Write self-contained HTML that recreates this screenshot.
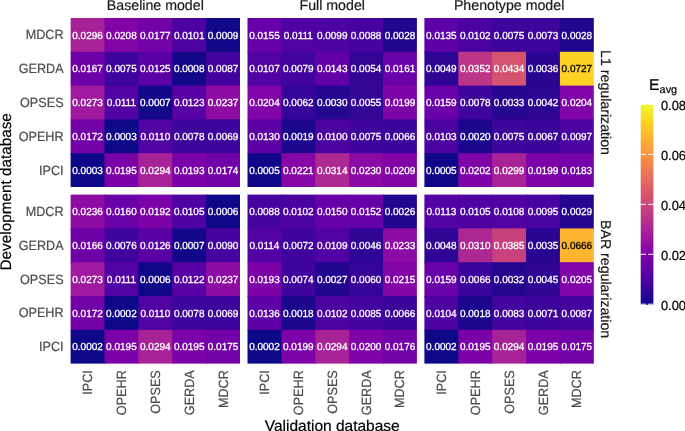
<!DOCTYPE html><html><head><meta charset="utf-8"><style>
html,body{margin:0;padding:0;background:#fff;}body{width:685px;height:431px;overflow:hidden;}
svg{display:block;font-family:"Liberation Sans",sans-serif;text-rendering:geometricPrecision;will-change:transform;}
</style></head><body>
<svg width="685" height="431" viewBox="0 0 685 431">
<rect x="0" y="0" width="685" height="431" fill="#fff"/>
<rect x="70.60" y="18.00" width="34.88" height="34.80" fill="#a72197"/>
<rect x="104.48" y="18.00" width="34.88" height="34.80" fill="#8104a7"/>
<rect x="138.36" y="18.00" width="34.88" height="34.80" fill="#7201a8"/>
<rect x="172.24" y="18.00" width="34.88" height="34.80" fill="#4c02a1"/>
<rect x="206.12" y="18.00" width="33.88" height="34.80" fill="#130789"/>
<rect x="70.60" y="51.80" width="34.88" height="34.80" fill="#6e00a8"/>
<rect x="104.48" y="51.80" width="34.88" height="34.80" fill="#3f049c"/>
<rect x="138.36" y="51.80" width="34.88" height="34.80" fill="#5901a5"/>
<rect x="172.24" y="51.80" width="34.88" height="34.80" fill="#130789"/>
<rect x="206.12" y="51.80" width="33.88" height="34.80" fill="#44039e"/>
<rect x="70.60" y="85.60" width="34.88" height="34.80" fill="#9e199d"/>
<rect x="104.48" y="85.60" width="34.88" height="34.80" fill="#5102a3"/>
<rect x="138.36" y="85.60" width="34.88" height="34.80" fill="#130789"/>
<rect x="172.24" y="85.60" width="34.88" height="34.80" fill="#5801a4"/>
<rect x="206.12" y="85.60" width="33.88" height="34.80" fill="#8e0ca4"/>
<rect x="70.60" y="119.40" width="34.88" height="34.80" fill="#7100a8"/>
<rect x="104.48" y="119.40" width="34.88" height="34.80" fill="#0d0887"/>
<rect x="138.36" y="119.40" width="34.88" height="34.80" fill="#5102a3"/>
<rect x="172.24" y="119.40" width="34.88" height="34.80" fill="#3f049c"/>
<rect x="206.12" y="119.40" width="33.88" height="34.80" fill="#3c049b"/>
<rect x="70.60" y="153.20" width="34.88" height="33.80" fill="#0d0887"/>
<rect x="104.48" y="153.20" width="34.88" height="33.80" fill="#7b02a8"/>
<rect x="138.36" y="153.20" width="34.88" height="33.80" fill="#a72197"/>
<rect x="172.24" y="153.20" width="34.88" height="33.80" fill="#7a02a8"/>
<rect x="206.12" y="153.20" width="33.88" height="33.80" fill="#7100a8"/>
<rect x="247.50" y="18.00" width="34.88" height="34.80" fill="#6700a8"/>
<rect x="281.38" y="18.00" width="34.88" height="34.80" fill="#5102a3"/>
<rect x="315.26" y="18.00" width="34.88" height="34.80" fill="#4b03a1"/>
<rect x="349.14" y="18.00" width="34.88" height="34.80" fill="#46039f"/>
<rect x="383.02" y="18.00" width="33.88" height="34.80" fill="#220690"/>
<rect x="247.50" y="51.80" width="34.88" height="34.80" fill="#5002a2"/>
<rect x="281.38" y="51.80" width="34.88" height="34.80" fill="#41049d"/>
<rect x="315.26" y="51.80" width="34.88" height="34.80" fill="#6100a7"/>
<rect x="349.14" y="51.80" width="34.88" height="34.80" fill="#330597"/>
<rect x="383.02" y="51.80" width="33.88" height="34.80" fill="#6a00a8"/>
<rect x="247.50" y="85.60" width="34.88" height="34.80" fill="#8004a8"/>
<rect x="281.38" y="85.60" width="34.88" height="34.80" fill="#370499"/>
<rect x="315.26" y="85.60" width="34.88" height="34.80" fill="#240691"/>
<rect x="349.14" y="85.60" width="34.88" height="34.80" fill="#330597"/>
<rect x="383.02" y="85.60" width="33.88" height="34.80" fill="#7d03a8"/>
<rect x="247.50" y="119.40" width="34.88" height="34.80" fill="#5b01a5"/>
<rect x="281.38" y="119.40" width="34.88" height="34.80" fill="#1d068e"/>
<rect x="315.26" y="119.40" width="34.88" height="34.80" fill="#4c02a1"/>
<rect x="349.14" y="119.40" width="34.88" height="34.80" fill="#3f049c"/>
<rect x="383.02" y="119.40" width="33.88" height="34.80" fill="#3a049a"/>
<rect x="247.50" y="153.20" width="34.88" height="33.80" fill="#100788"/>
<rect x="281.38" y="153.20" width="34.88" height="33.80" fill="#8707a6"/>
<rect x="315.26" y="153.20" width="34.88" height="33.80" fill="#ae2892"/>
<rect x="349.14" y="153.20" width="34.88" height="33.80" fill="#8b0aa5"/>
<rect x="383.02" y="153.20" width="33.88" height="33.80" fill="#8104a7"/>
<rect x="424.40" y="18.00" width="34.88" height="34.80" fill="#5e01a6"/>
<rect x="458.28" y="18.00" width="34.88" height="34.80" fill="#4c02a1"/>
<rect x="492.16" y="18.00" width="34.88" height="34.80" fill="#3f049c"/>
<rect x="526.04" y="18.00" width="34.88" height="34.80" fill="#3e049c"/>
<rect x="559.92" y="18.00" width="33.88" height="34.80" fill="#220690"/>
<rect x="424.40" y="51.80" width="34.88" height="34.80" fill="#2f0596"/>
<rect x="458.28" y="51.80" width="34.88" height="34.80" fill="#bc3587"/>
<rect x="492.16" y="51.80" width="34.88" height="34.80" fill="#d5536f"/>
<rect x="526.04" y="51.80" width="34.88" height="34.80" fill="#280592"/>
<rect x="559.92" y="51.80" width="33.88" height="34.80" fill="#fcd225"/>
<rect x="424.40" y="85.60" width="34.88" height="34.80" fill="#6900a8"/>
<rect x="458.28" y="85.60" width="34.88" height="34.80" fill="#3f049c"/>
<rect x="492.16" y="85.60" width="34.88" height="34.80" fill="#260591"/>
<rect x="526.04" y="85.60" width="34.88" height="34.80" fill="#2c0594"/>
<rect x="559.92" y="85.60" width="33.88" height="34.80" fill="#8004a8"/>
<rect x="424.40" y="119.40" width="34.88" height="34.80" fill="#4c02a1"/>
<rect x="458.28" y="119.40" width="34.88" height="34.80" fill="#1d068e"/>
<rect x="492.16" y="119.40" width="34.88" height="34.80" fill="#3f049c"/>
<rect x="526.04" y="119.40" width="34.88" height="34.80" fill="#3a049a"/>
<rect x="559.92" y="119.40" width="33.88" height="34.80" fill="#4b03a1"/>
<rect x="424.40" y="153.20" width="34.88" height="33.80" fill="#100788"/>
<rect x="458.28" y="153.20" width="34.88" height="33.80" fill="#7e03a8"/>
<rect x="492.16" y="153.20" width="34.88" height="33.80" fill="#a82296"/>
<rect x="526.04" y="153.20" width="34.88" height="33.80" fill="#7d03a8"/>
<rect x="559.92" y="153.20" width="33.88" height="33.80" fill="#7501a8"/>
<rect x="70.60" y="194.60" width="34.88" height="34.80" fill="#8e0ca4"/>
<rect x="104.48" y="194.60" width="34.88" height="34.80" fill="#6a00a8"/>
<rect x="138.36" y="194.60" width="34.88" height="34.80" fill="#7a02a8"/>
<rect x="172.24" y="194.60" width="34.88" height="34.80" fill="#4e02a2"/>
<rect x="206.12" y="194.60" width="33.88" height="34.80" fill="#100788"/>
<rect x="70.60" y="228.40" width="34.88" height="34.80" fill="#6e00a8"/>
<rect x="104.48" y="228.40" width="34.88" height="34.80" fill="#3f049c"/>
<rect x="138.36" y="228.40" width="34.88" height="34.80" fill="#5901a5"/>
<rect x="172.24" y="228.40" width="34.88" height="34.80" fill="#130789"/>
<rect x="206.12" y="228.40" width="33.88" height="34.80" fill="#46039f"/>
<rect x="70.60" y="262.20" width="34.88" height="34.80" fill="#9e199d"/>
<rect x="104.48" y="262.20" width="34.88" height="34.80" fill="#5102a3"/>
<rect x="138.36" y="262.20" width="34.88" height="34.80" fill="#100788"/>
<rect x="172.24" y="262.20" width="34.88" height="34.80" fill="#5801a4"/>
<rect x="206.12" y="262.20" width="33.88" height="34.80" fill="#8e0ca4"/>
<rect x="70.60" y="296.00" width="34.88" height="34.80" fill="#7100a8"/>
<rect x="104.48" y="296.00" width="34.88" height="34.80" fill="#0d0887"/>
<rect x="138.36" y="296.00" width="34.88" height="34.80" fill="#5102a3"/>
<rect x="172.24" y="296.00" width="34.88" height="34.80" fill="#3f049c"/>
<rect x="206.12" y="296.00" width="33.88" height="34.80" fill="#3c049b"/>
<rect x="70.60" y="329.80" width="34.88" height="33.80" fill="#0d0887"/>
<rect x="104.48" y="329.80" width="34.88" height="33.80" fill="#7b02a8"/>
<rect x="138.36" y="329.80" width="34.88" height="33.80" fill="#a72197"/>
<rect x="172.24" y="329.80" width="34.88" height="33.80" fill="#7b02a8"/>
<rect x="206.12" y="329.80" width="33.88" height="33.80" fill="#7201a8"/>
<rect x="247.50" y="194.60" width="34.88" height="34.80" fill="#46039f"/>
<rect x="281.38" y="194.60" width="34.88" height="34.80" fill="#4c02a1"/>
<rect x="315.26" y="194.60" width="34.88" height="34.80" fill="#6600a7"/>
<rect x="349.14" y="194.60" width="34.88" height="34.80" fill="#6600a7"/>
<rect x="383.02" y="194.60" width="33.88" height="34.80" fill="#220690"/>
<rect x="247.50" y="228.40" width="34.88" height="34.80" fill="#5302a3"/>
<rect x="281.38" y="228.40" width="34.88" height="34.80" fill="#3e049c"/>
<rect x="315.26" y="228.40" width="34.88" height="34.80" fill="#5002a2"/>
<rect x="349.14" y="228.40" width="34.88" height="34.80" fill="#2e0595"/>
<rect x="383.02" y="228.40" width="33.88" height="34.80" fill="#8d0ba5"/>
<rect x="247.50" y="262.20" width="34.88" height="34.80" fill="#7a02a8"/>
<rect x="281.38" y="262.20" width="34.88" height="34.80" fill="#3e049c"/>
<rect x="315.26" y="262.20" width="34.88" height="34.80" fill="#220690"/>
<rect x="349.14" y="262.20" width="34.88" height="34.80" fill="#370499"/>
<rect x="383.02" y="262.20" width="33.88" height="34.80" fill="#8405a7"/>
<rect x="247.50" y="296.00" width="34.88" height="34.80" fill="#5e01a6"/>
<rect x="281.38" y="296.00" width="34.88" height="34.80" fill="#1b068d"/>
<rect x="315.26" y="296.00" width="34.88" height="34.80" fill="#4c02a1"/>
<rect x="349.14" y="296.00" width="34.88" height="34.80" fill="#44039e"/>
<rect x="383.02" y="296.00" width="33.88" height="34.80" fill="#3a049a"/>
<rect x="247.50" y="329.80" width="34.88" height="33.80" fill="#0d0887"/>
<rect x="281.38" y="329.80" width="34.88" height="33.80" fill="#7d03a8"/>
<rect x="315.26" y="329.80" width="34.88" height="33.80" fill="#a72197"/>
<rect x="349.14" y="329.80" width="34.88" height="33.80" fill="#7e03a8"/>
<rect x="383.02" y="329.80" width="33.88" height="33.80" fill="#7201a8"/>
<rect x="424.40" y="194.60" width="34.88" height="34.80" fill="#5302a3"/>
<rect x="458.28" y="194.60" width="34.88" height="34.80" fill="#4e02a2"/>
<rect x="492.16" y="194.60" width="34.88" height="34.80" fill="#5002a2"/>
<rect x="526.04" y="194.60" width="34.88" height="34.80" fill="#4903a0"/>
<rect x="559.92" y="194.60" width="33.88" height="34.80" fill="#240691"/>
<rect x="424.40" y="228.40" width="34.88" height="34.80" fill="#2f0596"/>
<rect x="458.28" y="228.40" width="34.88" height="34.80" fill="#ad2793"/>
<rect x="492.16" y="228.40" width="34.88" height="34.80" fill="#c7427c"/>
<rect x="526.04" y="228.40" width="34.88" height="34.80" fill="#280592"/>
<rect x="559.92" y="228.40" width="33.88" height="34.80" fill="#fdb42f"/>
<rect x="424.40" y="262.20" width="34.88" height="34.80" fill="#6900a8"/>
<rect x="458.28" y="262.20" width="34.88" height="34.80" fill="#3a049a"/>
<rect x="492.16" y="262.20" width="34.88" height="34.80" fill="#260591"/>
<rect x="526.04" y="262.20" width="34.88" height="34.80" fill="#2e0595"/>
<rect x="559.92" y="262.20" width="33.88" height="34.80" fill="#8004a8"/>
<rect x="424.40" y="296.00" width="34.88" height="34.80" fill="#4e02a2"/>
<rect x="458.28" y="296.00" width="34.88" height="34.80" fill="#1b068d"/>
<rect x="492.16" y="296.00" width="34.88" height="34.80" fill="#43039e"/>
<rect x="526.04" y="296.00" width="34.88" height="34.80" fill="#3c049b"/>
<rect x="559.92" y="296.00" width="33.88" height="34.80" fill="#44039e"/>
<rect x="424.40" y="329.80" width="34.88" height="33.80" fill="#0d0887"/>
<rect x="458.28" y="329.80" width="34.88" height="33.80" fill="#7b02a8"/>
<rect x="492.16" y="329.80" width="34.88" height="33.80" fill="#a72197"/>
<rect x="526.04" y="329.80" width="34.88" height="33.80" fill="#7b02a8"/>
<rect x="559.92" y="329.80" width="33.88" height="33.80" fill="#7201a8"/>
<g font-size="10.00" text-anchor="middle" fill="#fff" stroke="#fff" stroke-width="0.30" stroke-linejoin="round">
<text transform="translate(87.54 38.68) scale(1 1.020)">0.0296</text>
<text transform="translate(121.42 38.68) scale(1 1.020)">0.0208</text>
<text transform="translate(155.30 38.68) scale(1 1.020)">0.0177</text>
<text transform="translate(189.18 38.68) scale(1 1.020)">0.0101</text>
<text transform="translate(223.06 38.68) scale(1 1.020)">0.0009</text>
<text transform="translate(87.54 72.48) scale(1 1.020)">0.0167</text>
<text transform="translate(121.42 72.48) scale(1 1.020)">0.0075</text>
<text transform="translate(155.30 72.48) scale(1 1.020)">0.0125</text>
<text transform="translate(189.18 72.48) scale(1 1.020)">0.0008</text>
<text transform="translate(223.06 72.48) scale(1 1.020)">0.0087</text>
<text transform="translate(87.54 106.28) scale(1 1.020)">0.0273</text>
<text transform="translate(121.42 106.28) scale(1 1.020)">0.0111</text>
<text transform="translate(155.30 106.28) scale(1 1.020)">0.0007</text>
<text transform="translate(189.18 106.28) scale(1 1.020)">0.0123</text>
<text transform="translate(223.06 106.28) scale(1 1.020)">0.0237</text>
<text transform="translate(87.54 140.08) scale(1 1.020)">0.0172</text>
<text transform="translate(121.42 140.08) scale(1 1.020)">0.0003</text>
<text transform="translate(155.30 140.08) scale(1 1.020)">0.0110</text>
<text transform="translate(189.18 140.08) scale(1 1.020)">0.0078</text>
<text transform="translate(223.06 140.08) scale(1 1.020)">0.0069</text>
<text transform="translate(87.54 173.88) scale(1 1.020)">0.0003</text>
<text transform="translate(121.42 173.88) scale(1 1.020)">0.0195</text>
<text transform="translate(155.30 173.88) scale(1 1.020)">0.0294</text>
<text transform="translate(189.18 173.88) scale(1 1.020)">0.0193</text>
<text transform="translate(223.06 173.88) scale(1 1.020)">0.0174</text>
<text transform="translate(264.44 38.68) scale(1 1.020)">0.0155</text>
<text transform="translate(298.32 38.68) scale(1 1.020)">0.0111</text>
<text transform="translate(332.20 38.68) scale(1 1.020)">0.0099</text>
<text transform="translate(366.08 38.68) scale(1 1.020)">0.0088</text>
<text transform="translate(399.96 38.68) scale(1 1.020)">0.0028</text>
<text transform="translate(264.44 72.48) scale(1 1.020)">0.0107</text>
<text transform="translate(298.32 72.48) scale(1 1.020)">0.0079</text>
<text transform="translate(332.20 72.48) scale(1 1.020)">0.0143</text>
<text transform="translate(366.08 72.48) scale(1 1.020)">0.0054</text>
<text transform="translate(399.96 72.48) scale(1 1.020)">0.0161</text>
<text transform="translate(264.44 106.28) scale(1 1.020)">0.0204</text>
<text transform="translate(298.32 106.28) scale(1 1.020)">0.0062</text>
<text transform="translate(332.20 106.28) scale(1 1.020)">0.0030</text>
<text transform="translate(366.08 106.28) scale(1 1.020)">0.0055</text>
<text transform="translate(399.96 106.28) scale(1 1.020)">0.0199</text>
<text transform="translate(264.44 140.08) scale(1 1.020)">0.0130</text>
<text transform="translate(298.32 140.08) scale(1 1.020)">0.0019</text>
<text transform="translate(332.20 140.08) scale(1 1.020)">0.0100</text>
<text transform="translate(366.08 140.08) scale(1 1.020)">0.0075</text>
<text transform="translate(399.96 140.08) scale(1 1.020)">0.0066</text>
<text transform="translate(264.44 173.88) scale(1 1.020)">0.0005</text>
<text transform="translate(298.32 173.88) scale(1 1.020)">0.0221</text>
<text transform="translate(332.20 173.88) scale(1 1.020)">0.0314</text>
<text transform="translate(366.08 173.88) scale(1 1.020)">0.0230</text>
<text transform="translate(399.96 173.88) scale(1 1.020)">0.0209</text>
<text transform="translate(441.34 38.68) scale(1 1.020)">0.0135</text>
<text transform="translate(475.22 38.68) scale(1 1.020)">0.0102</text>
<text transform="translate(509.10 38.68) scale(1 1.020)">0.0075</text>
<text transform="translate(542.98 38.68) scale(1 1.020)">0.0073</text>
<text transform="translate(576.86 38.68) scale(1 1.020)">0.0028</text>
<text transform="translate(441.34 72.48) scale(1 1.020)">0.0049</text>
<text transform="translate(475.22 72.48) scale(1 1.020)">0.0352</text>
<text transform="translate(509.10 72.48) scale(1 1.020)">0.0434</text>
<text transform="translate(542.98 72.48) scale(1 1.020)">0.0036</text>
<text transform="translate(441.34 106.28) scale(1 1.020)">0.0159</text>
<text transform="translate(475.22 106.28) scale(1 1.020)">0.0078</text>
<text transform="translate(509.10 106.28) scale(1 1.020)">0.0033</text>
<text transform="translate(542.98 106.28) scale(1 1.020)">0.0042</text>
<text transform="translate(576.86 106.28) scale(1 1.020)">0.0204</text>
<text transform="translate(441.34 140.08) scale(1 1.020)">0.0103</text>
<text transform="translate(475.22 140.08) scale(1 1.020)">0.0020</text>
<text transform="translate(509.10 140.08) scale(1 1.020)">0.0075</text>
<text transform="translate(542.98 140.08) scale(1 1.020)">0.0067</text>
<text transform="translate(576.86 140.08) scale(1 1.020)">0.0097</text>
<text transform="translate(441.34 173.88) scale(1 1.020)">0.0005</text>
<text transform="translate(475.22 173.88) scale(1 1.020)">0.0202</text>
<text transform="translate(509.10 173.88) scale(1 1.020)">0.0299</text>
<text transform="translate(542.98 173.88) scale(1 1.020)">0.0199</text>
<text transform="translate(576.86 173.88) scale(1 1.020)">0.0183</text>
<text transform="translate(87.54 215.28) scale(1 1.020)">0.0236</text>
<text transform="translate(121.42 215.28) scale(1 1.020)">0.0160</text>
<text transform="translate(155.30 215.28) scale(1 1.020)">0.0192</text>
<text transform="translate(189.18 215.28) scale(1 1.020)">0.0105</text>
<text transform="translate(223.06 215.28) scale(1 1.020)">0.0006</text>
<text transform="translate(87.54 249.08) scale(1 1.020)">0.0166</text>
<text transform="translate(121.42 249.08) scale(1 1.020)">0.0076</text>
<text transform="translate(155.30 249.08) scale(1 1.020)">0.0126</text>
<text transform="translate(189.18 249.08) scale(1 1.020)">0.0007</text>
<text transform="translate(223.06 249.08) scale(1 1.020)">0.0090</text>
<text transform="translate(87.54 282.88) scale(1 1.020)">0.0273</text>
<text transform="translate(121.42 282.88) scale(1 1.020)">0.0111</text>
<text transform="translate(155.30 282.88) scale(1 1.020)">0.0006</text>
<text transform="translate(189.18 282.88) scale(1 1.020)">0.0122</text>
<text transform="translate(223.06 282.88) scale(1 1.020)">0.0237</text>
<text transform="translate(87.54 316.68) scale(1 1.020)">0.0172</text>
<text transform="translate(121.42 316.68) scale(1 1.020)">0.0002</text>
<text transform="translate(155.30 316.68) scale(1 1.020)">0.0110</text>
<text transform="translate(189.18 316.68) scale(1 1.020)">0.0078</text>
<text transform="translate(223.06 316.68) scale(1 1.020)">0.0069</text>
<text transform="translate(87.54 350.48) scale(1 1.020)">0.0002</text>
<text transform="translate(121.42 350.48) scale(1 1.020)">0.0195</text>
<text transform="translate(155.30 350.48) scale(1 1.020)">0.0294</text>
<text transform="translate(189.18 350.48) scale(1 1.020)">0.0195</text>
<text transform="translate(223.06 350.48) scale(1 1.020)">0.0175</text>
<text transform="translate(264.44 215.28) scale(1 1.020)">0.0088</text>
<text transform="translate(298.32 215.28) scale(1 1.020)">0.0102</text>
<text transform="translate(332.20 215.28) scale(1 1.020)">0.0150</text>
<text transform="translate(366.08 215.28) scale(1 1.020)">0.0152</text>
<text transform="translate(399.96 215.28) scale(1 1.020)">0.0026</text>
<text transform="translate(264.44 249.08) scale(1 1.020)">0.0114</text>
<text transform="translate(298.32 249.08) scale(1 1.020)">0.0072</text>
<text transform="translate(332.20 249.08) scale(1 1.020)">0.0109</text>
<text transform="translate(366.08 249.08) scale(1 1.020)">0.0046</text>
<text transform="translate(399.96 249.08) scale(1 1.020)">0.0233</text>
<text transform="translate(264.44 282.88) scale(1 1.020)">0.0193</text>
<text transform="translate(298.32 282.88) scale(1 1.020)">0.0074</text>
<text transform="translate(332.20 282.88) scale(1 1.020)">0.0027</text>
<text transform="translate(366.08 282.88) scale(1 1.020)">0.0060</text>
<text transform="translate(399.96 282.88) scale(1 1.020)">0.0215</text>
<text transform="translate(264.44 316.68) scale(1 1.020)">0.0136</text>
<text transform="translate(298.32 316.68) scale(1 1.020)">0.0018</text>
<text transform="translate(332.20 316.68) scale(1 1.020)">0.0102</text>
<text transform="translate(366.08 316.68) scale(1 1.020)">0.0085</text>
<text transform="translate(399.96 316.68) scale(1 1.020)">0.0066</text>
<text transform="translate(264.44 350.48) scale(1 1.020)">0.0002</text>
<text transform="translate(298.32 350.48) scale(1 1.020)">0.0199</text>
<text transform="translate(332.20 350.48) scale(1 1.020)">0.0294</text>
<text transform="translate(366.08 350.48) scale(1 1.020)">0.0200</text>
<text transform="translate(399.96 350.48) scale(1 1.020)">0.0176</text>
<text transform="translate(441.34 215.28) scale(1 1.020)">0.0113</text>
<text transform="translate(475.22 215.28) scale(1 1.020)">0.0105</text>
<text transform="translate(509.10 215.28) scale(1 1.020)">0.0108</text>
<text transform="translate(542.98 215.28) scale(1 1.020)">0.0095</text>
<text transform="translate(576.86 215.28) scale(1 1.020)">0.0029</text>
<text transform="translate(441.34 249.08) scale(1 1.020)">0.0048</text>
<text transform="translate(475.22 249.08) scale(1 1.020)">0.0310</text>
<text transform="translate(509.10 249.08) scale(1 1.020)">0.0385</text>
<text transform="translate(542.98 249.08) scale(1 1.020)">0.0035</text>
<text transform="translate(441.34 282.88) scale(1 1.020)">0.0159</text>
<text transform="translate(475.22 282.88) scale(1 1.020)">0.0066</text>
<text transform="translate(509.10 282.88) scale(1 1.020)">0.0032</text>
<text transform="translate(542.98 282.88) scale(1 1.020)">0.0045</text>
<text transform="translate(576.86 282.88) scale(1 1.020)">0.0205</text>
<text transform="translate(441.34 316.68) scale(1 1.020)">0.0104</text>
<text transform="translate(475.22 316.68) scale(1 1.020)">0.0018</text>
<text transform="translate(509.10 316.68) scale(1 1.020)">0.0083</text>
<text transform="translate(542.98 316.68) scale(1 1.020)">0.0071</text>
<text transform="translate(576.86 316.68) scale(1 1.020)">0.0087</text>
<text transform="translate(441.34 350.48) scale(1 1.020)">0.0002</text>
<text transform="translate(475.22 350.48) scale(1 1.020)">0.0195</text>
<text transform="translate(509.10 350.48) scale(1 1.020)">0.0294</text>
<text transform="translate(542.98 350.48) scale(1 1.020)">0.0195</text>
<text transform="translate(576.86 350.48) scale(1 1.020)">0.0175</text>
</g>
<g font-size="10.00" text-anchor="middle" fill="#000" stroke="#000" stroke-width="0.30" stroke-linejoin="round">
<text transform="translate(576.86 72.48) scale(1 1.020)">0.0727</text>
<text transform="translate(576.86 249.08) scale(1 1.020)">0.0666</text>
</g>
<g font-size="12.65" text-anchor="end" fill="#4d4d4d" stroke="#4d4d4d" stroke-width="0.20" stroke-linejoin="round">
<text transform="translate(63.60 39.43) scale(1 1.060)">MDCR</text>
<text transform="translate(63.60 73.23) scale(1 1.060)">GERDA</text>
<text transform="translate(63.60 107.03) scale(1 1.060)">OPSES</text>
<text transform="translate(63.60 140.83) scale(1 1.060)">OPEHR</text>
<text transform="translate(63.60 174.63) scale(1 1.060)">IPCI</text>
<text transform="translate(63.60 216.03) scale(1 1.060)">MDCR</text>
<text transform="translate(63.60 249.83) scale(1 1.060)">GERDA</text>
<text transform="translate(63.60 283.63) scale(1 1.060)">OPSES</text>
<text transform="translate(63.60 317.43) scale(1 1.060)">OPEHR</text>
<text transform="translate(63.60 351.23) scale(1 1.060)">IPCI</text>
<text transform="translate(92.07 370.20) rotate(-90) scale(1 1.060)">IPCI</text>
<text transform="translate(125.95 370.20) rotate(-90) scale(1 1.060)">OPEHR</text>
<text transform="translate(159.83 370.20) rotate(-90) scale(1 1.060)">OPSES</text>
<text transform="translate(193.71 370.20) rotate(-90) scale(1 1.060)">GERDA</text>
<text transform="translate(227.59 370.20) rotate(-90) scale(1 1.060)">MDCR</text>
<text transform="translate(268.97 370.20) rotate(-90) scale(1 1.060)">IPCI</text>
<text transform="translate(302.85 370.20) rotate(-90) scale(1 1.060)">OPEHR</text>
<text transform="translate(336.73 370.20) rotate(-90) scale(1 1.060)">OPSES</text>
<text transform="translate(370.61 370.20) rotate(-90) scale(1 1.060)">GERDA</text>
<text transform="translate(404.49 370.20) rotate(-90) scale(1 1.060)">MDCR</text>
<text transform="translate(445.87 370.20) rotate(-90) scale(1 1.060)">IPCI</text>
<text transform="translate(479.75 370.20) rotate(-90) scale(1 1.060)">OPEHR</text>
<text transform="translate(513.63 370.20) rotate(-90) scale(1 1.060)">OPSES</text>
<text transform="translate(547.51 370.20) rotate(-90) scale(1 1.060)">GERDA</text>
<text transform="translate(581.39 370.20) rotate(-90) scale(1 1.060)">MDCR</text>
</g>
<g font-size="14.20" text-anchor="middle" fill="#1a1a1a" stroke="#1a1a1a" stroke-width="0.20" stroke-linejoin="round">
<text transform="translate(155.30 10.10)">Baseline model</text>
<text transform="translate(332.20 10.10)">Full model</text>
<text transform="translate(509.10 10.10)">Phenotype model</text>
<text transform="translate(601.30 102.50) rotate(90)">L1 regularization</text>
<text transform="translate(601.30 279.10) rotate(90)">BAR regularization</text>
</g>
<g font-size="15.50" text-anchor="middle" fill="#000" stroke="#000" stroke-width="0.20" stroke-linejoin="round">
<text transform="translate(332.20 430.50)">Validation database</text>
<text font-size="15.30" transform="translate(11.40 191.80) rotate(-90)">Development database</text>
</g>
<defs><linearGradient id="pl" x1="0" y1="1" x2="0" y2="0">
<stop offset="0.000" stop-color="#0d0887"/>
<stop offset="0.025" stop-color="#1d068e"/>
<stop offset="0.050" stop-color="#2a0593"/>
<stop offset="0.075" stop-color="#370499"/>
<stop offset="0.100" stop-color="#41049d"/>
<stop offset="0.125" stop-color="#4c02a1"/>
<stop offset="0.150" stop-color="#5601a4"/>
<stop offset="0.175" stop-color="#6001a6"/>
<stop offset="0.200" stop-color="#6a00a8"/>
<stop offset="0.225" stop-color="#7401a8"/>
<stop offset="0.250" stop-color="#7e03a8"/>
<stop offset="0.275" stop-color="#8707a6"/>
<stop offset="0.300" stop-color="#8f0da4"/>
<stop offset="0.325" stop-color="#99159f"/>
<stop offset="0.350" stop-color="#a11b9b"/>
<stop offset="0.375" stop-color="#aa2395"/>
<stop offset="0.400" stop-color="#b12a90"/>
<stop offset="0.425" stop-color="#b7318a"/>
<stop offset="0.450" stop-color="#bf3984"/>
<stop offset="0.475" stop-color="#c5407e"/>
<stop offset="0.500" stop-color="#cc4778"/>
<stop offset="0.525" stop-color="#d14e72"/>
<stop offset="0.550" stop-color="#d6556d"/>
<stop offset="0.575" stop-color="#dc5d67"/>
<stop offset="0.600" stop-color="#e16462"/>
<stop offset="0.625" stop-color="#e66c5c"/>
<stop offset="0.650" stop-color="#ea7457"/>
<stop offset="0.675" stop-color="#ee7b51"/>
<stop offset="0.700" stop-color="#f2844b"/>
<stop offset="0.725" stop-color="#f58c46"/>
<stop offset="0.750" stop-color="#f89540"/>
<stop offset="0.775" stop-color="#fa9e3b"/>
<stop offset="0.800" stop-color="#fca636"/>
<stop offset="0.825" stop-color="#fdb130"/>
<stop offset="0.850" stop-color="#feba2c"/>
<stop offset="0.875" stop-color="#fdc527"/>
<stop offset="0.900" stop-color="#fcce25"/>
<stop offset="0.925" stop-color="#fad824"/>
<stop offset="0.950" stop-color="#f7e425"/>
<stop offset="0.975" stop-color="#f3ee27"/>
<stop offset="1.000" stop-color="#f0f921"/>
</linearGradient></defs>
<rect x="640.70" y="104.00" width="12.70" height="200.80" fill="url(#pl)"/>
<g stroke="#fff" stroke-width="1">
<line x1="640.70" x2="646.00" y1="304.20" y2="304.20"/>
<line x1="648.10" x2="653.40" y1="304.20" y2="304.20"/>
<line x1="640.70" x2="646.00" y1="254.27" y2="254.27"/>
<line x1="648.10" x2="653.40" y1="254.27" y2="254.27"/>
<line x1="640.70" x2="646.00" y1="204.35" y2="204.35"/>
<line x1="648.10" x2="653.40" y1="204.35" y2="204.35"/>
<line x1="640.70" x2="646.00" y1="154.43" y2="154.43"/>
<line x1="648.10" x2="653.40" y1="154.43" y2="154.43"/>
<line x1="640.70" x2="646.00" y1="104.50" y2="104.50"/>
<line x1="648.10" x2="653.40" y1="104.50" y2="104.50"/>
</g>
<g font-size="12.90" fill="#000" stroke="#000" stroke-width="0.20" stroke-linejoin="round">
<text transform="translate(660.90 309.57) scale(1 1.020)">0.00</text>
<text transform="translate(660.90 259.76) scale(1 1.020)">0.02</text>
<text transform="translate(660.90 209.94) scale(1 1.020)">0.04</text>
<text transform="translate(660.90 160.13) scale(1 1.020)">0.06</text>
<text transform="translate(660.90 110.32) scale(1 1.020)">0.08</text>
</g>
<text font-size="15.70" fill="#000" stroke="#000" stroke-width="0.20" stroke-linejoin="round" transform="translate(649.10 89.90)">E<tspan font-size="10.90" dy="2.60">avg</tspan></text>
</svg></body></html>
